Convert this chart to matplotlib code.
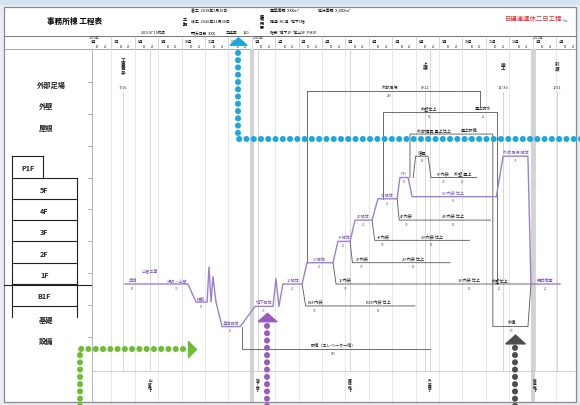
import matplotlib
matplotlib.use("Agg")
import matplotlib.pyplot as plt
import numpy as np
from matplotlib.patches import Rectangle

plt.rcParams['font.family'] = ['Noto Sans CJK JP', 'DejaVu Sans']

# ---------------------------------------------
# data  (x = months from 2019-06-01, y = floor level, 0 = 1F slab)
# ---------------------------------------------
MONTHS = [6, 7, 8, 9, 10, 11, 12, 1, 2, 3, 4, 5, 6, 7, 8, 9, 10, 11, 12, 1, 2]
YEAR_M = [0, 7, 19]
YEAR_TXT = ["2019年", "2020年", "2021年"]

MILESTONE_M = [1.50, 14.40, 17.74, 20.04]
MILESTONE_NAME = ["工事着手", "上棟", "竣工", "引渡"]
MILESTONE_DATE = ["7/16", "8/12", "11/30", "1/31"]

BOTTOM_M = [2.65, 7.26, 11.20, 14.60, 19.10]
BOTTOM_TXT = ["山留完了", "地下完了", "躯体完了", "外装完了", "検査完了"]

# critical path (purple)
CP_M = [1.58, 4.27, 4.62, 5.09, 5.17, 5.26, 5.34, 5.47, 5.73, 6.50,
        7.14, 7.91, 8.03, 8.16, 8.33, 9.15, 9.36, 10.47, 10.68, 11.20,
        11.41, 12.14, 12.39, 13.21, 13.33, 13.68, 13.85, 17.45, 17.74, 18.80,
        18.93, 20.17]
CP_L = [0, 0, -0.85, -0.85, 0.8, -0.85, 0.35, -0.85, -2.0, -2.0,
        -1.05, -1.05, 0.25, -1.05, 0, 0, 1, 1, 2, 2,
        3, 3, 4, 4, 5, 5, 4.1, 4.1, 6, 6,
        0, 0]

CP_LABELS = [(1.90, 0, "準備", "10"), (2.65, 0.45, "山留工事", ""), (3.80, 0, "根切・山留", "30"),
             (4.85, -0.85, "掘削", "15"), (6.10, -2.0, "基礎躯体", "25"), (7.52, -1.05, "地下躯体", "30"),
             (8.75, 0, "1F躯体", "20"), (9.90, 1, "2F躯体", "20"), (10.94, 2, "3F躯体", "20"),
             (11.78, 3, "4F躯体", "20"), (12.80, 4, "5F躯体", "20"), (13.50, 5, "PH", "10"),
             (15.60, 4.1, "5F内装 仕上", "60"), (18.27, 6, "外部足場 解体", "30"),
             (19.55, 0, "完成検査", "20")]

# other activities (dark lines)
ACT_M = [[9.36, 9.36, 16.75, 16.75],
         [12.60, 12.60, 17.48, 17.48],
         [13.76, 13.76, 17.30, 17.30, 18.80, 18.93],
         [13.90, 14.00, 14.53, 14.66, 16.60],
         [10.47, 10.60, 18.93],
         [11.20, 11.30, 15.47],
         [12.14, 12.25, 16.30],
         [13.21, 13.30, 17.20],
         [9.15, 9.30, 13.97],
         [6.60, 6.60, 14.60]]
ACT_L = [[1, 9.06, 9.06, 8.30],
         [4, 8.07, 8.07, 0],
         [5, 7.04, 7.04, -2.0, -2.0, 0],
         [5, 6, 6, 5, 5],
         [1, 0, 0],
         [2, 1, 1],
         [3, 2.05, 2.05],
         [4, 3, 3],
         [0, -1.03, -1.03],
         [-2.0, -3.05, -3.05]]

ACT_LABELS = [(12.90, 9.06, "外部足場", "240"),
              (14.60, 8.07, "外壁仕上", "60"), (16.90, 8.07, "屋上防水", "20"),
              (14.80, 7.04, "外部建具 屋上仕上", "45"), (16.30, 7.04, "屋上設備", "20"),
              (14.27, 6, "塔屋", "10"),
              (15.20, 5, "5F内装", "30"), (16.00, 5, "外壁 屋上", "20"),
              (13.60, 3, "4F内装", "30"), (15.60, 3, "4F内装 仕上", "60"),
              (12.60, 2.05, "3F内装", "30"), (14.70, 2.05, "3F内装 仕上", "60"),
              (11.70, 1, "2F内装", "30"), (13.90, 1, "2F内装 仕上", "60"),
              (11.00, 0, "1F内装", "30"), (16.30, 0, "1F内装 仕上", "60"), (17.60, 0, "外壁仕上", "20"),
              (9.70, -1.03, "B1F内装", "30"), (12.40, -1.03, "B1F内装 仕上", "60"),
              (10.50, -3.05, "設備（エレベーター他）", "180"),
              (18.10, -2.0, "外構", "30")]

# left column
FLOORS = ["P1F", "5F", "4F", "3F", "2F", "1F", "B1F"]
FLOOR_BASE = [5, 4, 3, 2, 1, 0, -1]
ROW_LABELS = ["外部足場", "外壁", "屋根", "基礎", "設備"]
ROW_L = [9.39, 8.40, 7.37, -1.65, -2.67]
ROW_X = [51, 46, 46, 46, 46]

# annotation arrows (month, level)
ARROW_BLUE_M = [21.1, 6.41, 6.41]
ARROW_BLUE_L = [6.81, 6.81, 11.17]
ARROW_GREEN_M = [-0.34, -0.34, 4.10]
ARROW_GREEN_L = [-5.77, -3.05, -3.05]
ARROW_PURPLE_M = [7.65, 7.65]
ARROW_PURPLE_L = [-5.77, -1.88]
ARROW_GRAY_M = [18.25, 18.25]
ARROW_GRAY_L = [-5.77, -2.91]

PURPLE = "#9d7fd0"
DARK = "#555555"

# pixel helpers for layout only
W, H = 580, 406
def rect(x0, y0, x1, y1):
    return [x0 / W, 1 - y1 / H, (x1 - x0) / W, (y1 - y0) / H]

XLIM = ((92 - 88) / 23.4, (576 - 88) / 23.4)
YLIM = ((285 - 403) / 21.3, (285 - 50) / 21.3)

fig = plt.figure(figsize=(5.8, 4.06), dpi=100, facecolor="#e7edf2")

# background / frame / header
bg = fig.add_axes([0, 0, 1, 1])
bg.set_xlim(0, W)
bg.set_ylim(H, 0)
bg.axis("off")
bg.add_patch(Rectangle((0, 0), W, 6, color="#d4e4f0", lw=0))
bg.add_patch(Rectangle((4, 8), 572, 395, facecolor="white", edgecolor="#8a8a8a", lw=0.9))
bg.plot([4, 576], [37, 37], color="#777", lw=0.7)
bg.plot([4, 576], [50, 50], color="#999", lw=0.6)
bg.text(75, 21, "事務所棟 工程表", fontsize=5.5, fontweight="bold", ha="center", va="center")
bg.text(153, 33, "2019.07.10作成", fontsize=2.6, ha="center", va="center")
bg.text(185, 22, "工\n期", fontsize=3, fontweight="bold", ha="center", va="center", linespacing=0.9)
bg.text(191, 11, "着工  2019年7月16日", fontsize=2.8, va="center")
bg.text(191, 22, "竣工  2020年11月30日", fontsize=2.8, va="center")
bg.text(191, 33, "雨天日数  XXX", fontsize=2.8, va="center")
bg.text(226, 33, "工程率", fontsize=2.8, va="center")
bg.text(243, 33, "100", fontsize=2.8, va="center")
bg.text(262, 22, "建\n物\n概\n要", fontsize=2.8, fontweight="bold", ha="center", va="center", linespacing=0.9)
bg.text(270, 11, "建築面積  XXXm²", fontsize=2.8, va="center")
bg.text(318, 11, "延床面積  X,XXXm²", fontsize=2.8, va="center")
bg.text(270, 22, "構造  RC造   地下1階", fontsize=2.8, va="center")
bg.text(270, 33, "階数  地下1F  地上5F  PH1F", fontsize=2.8, va="center")
bg.text(534, 19, "日建連週休二日工程", fontsize=4.6, color="#e8262a", ha="center", va="center")
bg.text(563, 21, "Ver.", fontsize=2.2, color="#555", va="center")

# timeline row
tl = fig.add_axes(rect(92, 37, 576, 50))
tl.set_xlim(*XLIM)
tl.set_ylim(0, 1)
tl.axis("off")
for i, mn in enumerate(MONTHS):
    tl.plot([i, i], [0, 1], color="#bbb", lw=0.4)
    tl.text(i + 0.12, 0.62, f"{mn}月", fontsize=2.6, va="center")
    tl.text(i + 0.35, 0.2, "10", fontsize=2.2, va="center", color="#333")
    tl.text(i + 0.68, 0.2, "20", fontsize=2.2, va="center", color="#333")
for m, t in zip(YEAR_M, YEAR_TXT):
    tl.text(m + 0.03, 0.95, t, fontsize=2.4, va="center", color="#333")

# left column
axl = fig.add_axes(rect(0, 50, 92, 403))
axl.set_xlim(0, 92)
axl.set_ylim(*YLIM)
axl.axis("off")
for name, base in zip(FLOORS, FLOOR_BASE):
    x1 = 43 if name == "P1F" else 77
    axl.plot([12, x1], [base + 1, base + 1], color="#222", lw=0.8)
    axl.plot([12, 12], [base, base + 1], color="#222", lw=0.8)
    axl.plot([x1, x1], [base, base + 1], color="#222", lw=0.8)
    axl.text((12 + x1) / 2, base + 0.45, name, fontsize=5.2, fontweight="bold",
             ha="center", va="center", color="#222")
axl.plot([12, 77], [-1.03, -1.03], color="#222", lw=0.8)
axl.plot([12, 12], [-1, -1.55], color="#222", lw=0.8)
axl.plot([77, 77], [-1, -1.55], color="#222", lw=0.8)
axl.plot([4, 92], [-0.05, -0.05], color="#222", lw=0.8)
for t, l, x in zip(ROW_LABELS, ROW_L, ROW_X):
    axl.text(x, l, t, fontsize=5.2, fontweight="bold", ha="center", va="center", color="#222")

# gantt area
ax = fig.add_axes(rect(92, 50, 576, 403))
ax.set_zorder(3)
ax.patch.set_alpha(0)
ax.set_xlim(*XLIM)
ax.set_ylim(*YLIM)
for s in ["top", "right", "bottom"]:
    ax.spines[s].set_visible(False)
ax.spines["left"].set_color("#aaa")
ax.spines["left"].set_linewidth(0.6)
ax.set_xticks([])
ax.set_yticks(np.arange(-2.5, 10, 1.5))
ax.tick_params(axis="y", length=3, width=0.5, color="#888", labelleft=False)

for k in range(len(MONTHS) + 1):
    ax.axvline(k, color="#e3e3e3", lw=0.6, zorder=0)
for m in YEAR_M[1:]:
    ax.axvline(m, color="#d3d3d3", lw=3, zorder=0)
ax.axhline((285 - 372) / 21.3, color="#c8c8c8", lw=0.6, zorder=0)

for m in BOTTOM_M:
    ax.plot([m, m], [YLIM[1], -4.08], color="#d6d6d6", lw=0.7, zorder=0)
for m, t in zip(BOTTOM_M, BOTTOM_TXT):
    ax.text(m, -4.75, "\n".join(t), fontsize=2.6, fontweight="bold", ha="center", va="center",
            linespacing=0.85, color="#222")

for m, n, d in zip(MILESTONE_M, MILESTONE_NAME, MILESTONE_DATE):
    ax.plot([m, m], [-4.08, 9.0], color="#cfcfcf", lw=0.6, zorder=0)
    ax.text(m, 10.25, "\n".join(n), fontsize=3.4, fontweight="bold", ha="center", va="center",
            linespacing=0.85, color="#222")
    ax.text(m, 9.25, d, fontsize=3, ha="center", va="center", color="#333")

for ms, ls in zip(ACT_M, ACT_L):
    ax.plot(ms, ls, color=DARK, lw=0.6, zorder=2)
for m, l, t, d in ACT_LABELS:
    ax.text(m, l + 0.1, t, fontsize=3, ha="center", va="bottom", color="#222", zorder=4)
    ax.text(m, l - 0.08, d, fontsize=2.2, ha="center", va="top", color="#555", zorder=4)

ax.plot(CP_M, CP_L, color=PURPLE, lw=1.0, zorder=3)
for m, l, t, d in CP_LABELS:
    ax.text(m, l + 0.1, t, fontsize=3, ha="center", va="bottom", color="#7a55c0", zorder=4)
    if d:
        ax.text(m, l - 0.08, d, fontsize=2.2, ha="center", va="top", color="#7a55c0", zorder=4)

# dotted arrows
def dotted(xs, ys, color):
    ax.plot(xs, ys, color=color, lw=4.4, linestyle=(0, (0.01, 1.18)),
            dash_capstyle="round", solid_joinstyle="round", clip_on=False, zorder=10)

UP = [(-1, -0.45), (1, -0.45), (0, 0.45), (-1, -0.45)]
RIGHT = [(-0.5, -1), (-0.5, 1), (0.5, 0), (-0.5, -1)]

dotted(ARROW_BLUE_M, ARROW_BLUE_L, "#1ea7df")
ax.plot([ARROW_BLUE_M[-1]], [11.41], marker=UP, ms=12, color="#1ea7df", clip_on=False, zorder=11)
dotted(ARROW_GREEN_M, ARROW_GREEN_L, "#6fbd35")
ax.plot([4.44], [ARROW_GREEN_L[-1]], marker=RIGHT, ms=11.5, color="#6fbd35", clip_on=False, zorder=11)
dotted(ARROW_PURPLE_M, ARROW_PURPLE_L, "#9a5cbc")
ax.plot([ARROW_PURPLE_M[-1]], [-1.55], marker=UP, ms=13.5, color="#9a5cbc", clip_on=False, zorder=11)
dotted(ARROW_GRAY_M, ARROW_GRAY_L, "#4d4d4d")
ax.plot([ARROW_GRAY_M[-1]], [-2.58], marker=UP, ms=14, color="#4d4d4d", clip_on=False, zorder=11)

fig.savefig("out.png", dpi=100, facecolor=fig.get_facecolor())
